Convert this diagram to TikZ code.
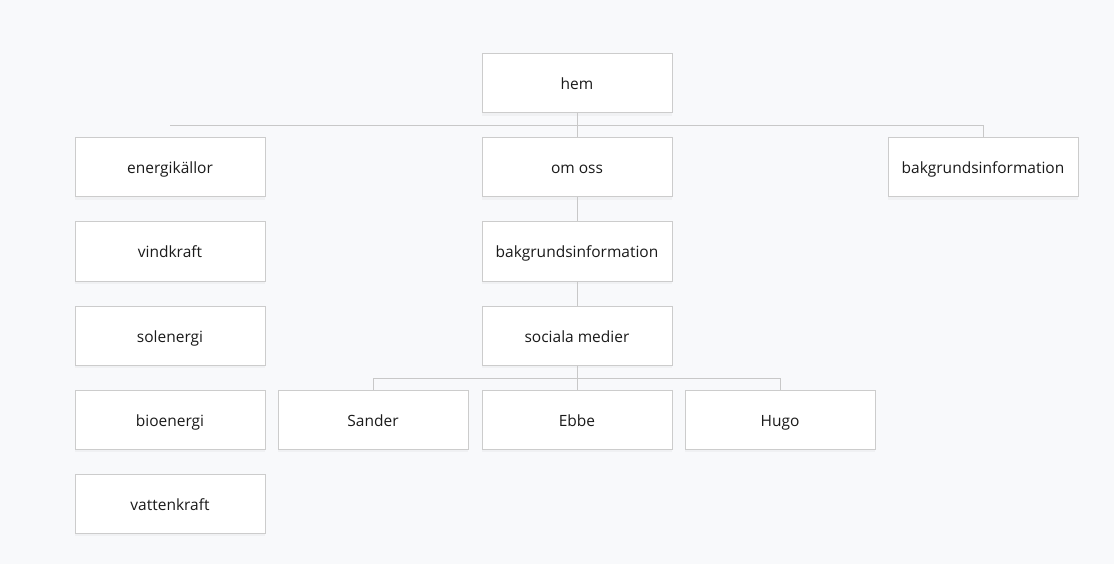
\documentclass[tikz,border=0pt]{standalone}
\usepackage{fontspec}
\setmainfont{Open Sans}
\usepackage{tikz}
\usetikzlibrary{positioning, shadows}
\definecolor{pagebg}{RGB}{248,249,251}
\definecolor{boxline}{RGB}{204,204,204}
\definecolor{linkgray}{RGB}{200,200,200}
\definecolor{textdark}{RGB}{26,26,26}

\begin{document}
\begin{tikzpicture}[
    x=1pt, y=-1pt,
    box/.style={rectangle, draw=boxline, fill=white, line width=1pt, minimum width=190pt, minimum height=59pt, inner sep=0pt, text height=13pt, text depth=0pt, font=\fontsize{15.5}{18}\selectfont, text=textdark, drop shadow={shadow xshift=0pt, shadow yshift=-3pt, opacity=0.06}},
    link/.style={draw=linkgray, line width=1pt}
]
    % Background
    \fill[pagebg] (0,0) rectangle (1114,564);

    % Top level
    \node[box] (hem) at (577, 83.5) {hem};
    \node[box] (energi) at (170, 167.5) {energikällor};
    \node[box] (om) at (577, 167.5) {om oss};
    \node[box] (bak) at (983, 167.5) {bakgrundsinformation};

    % Energy sources
    \node[box] (vind) at (170, 251.5) {vindkraft};
    \node[box] (sol) at (170, 335.5) {solenergi};
    \node[box] (bio) at (170, 419.5) {bioenergi};
    \node[box] (vatten) at (170, 503.5) {vattenkraft};

    % About us
    \node[box] (bak2) at (577, 251.5) {bakgrundsinformation};
    \node[box] (sociala) at (577, 335.5) {sociala medier};
    \node[box] (sander) at (373, 419.5) {Sander};
    \node[box] (ebbe) at (577, 419.5) {Ebbe};
    \node[box] (hugo) at (780, 419.5) {Hugo};

    % Connectors
    \coordinate (topbus) at (577, 126);
    \coordinate (subbus) at (577, 378);
    \draw[link] (hem.south) -- (om.north);
    \draw[link] (energi.north |- topbus) -- (topbus -| bak.north) -- (bak.north);
    \draw[link] (om.south) -- (bak2.north);
    \draw[link] (bak2.south) -- (sociala.north);
    \draw[link] (sociala.south) -- (ebbe.north);
    \draw[link] (sander.north) -- (sander.north |- subbus) -- (hugo.north |- subbus) -- (hugo.north);
\end{tikzpicture}
\end{document}
